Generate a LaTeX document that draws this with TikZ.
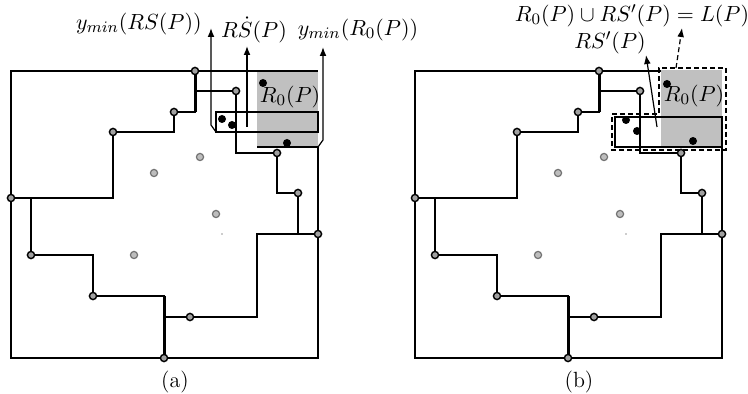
\documentclass[tikz,border=0pt]{standalone}
\usetikzlibrary{arrows.meta, positioning}
\usepackage{xcolor}
\definecolor{regiongray}{HTML}{C0C0C0}
\definecolor{vfill}{HTML}{A0A0A0}
\definecolor{sfill}{HTML}{BDBDBD}

\begin{document}
\begin{tikzpicture}[
    x=0.5pt, y=-0.5pt,
    every node/.style={font=\fontsize{11}{13}\selectfont, inner sep=1pt},
    wall/.style={line width=1pt},
    vtx/.style={circle, draw, line width=0.7pt, fill=vfill, inner sep=0pt, minimum size=3.6pt},
    site/.style={circle, draw=black!55, line width=0.6pt, fill=sfill, inner sep=0pt, minimum size=3.6pt},
    pnt/.style={circle, fill=black, inner sep=0pt, minimum size=4pt},
    rbox/.style={line width=1.3pt},
    lbox/.style={line width=0.8pt, dash pattern=on 2.5pt off 1.5pt},
    arr/.style={-{Latex[length=4.5pt, width=3.4pt]}, line width=0.6pt},
    darr/.style={arr, dash pattern=on 2.5pt off 1.5pt}
]
    \useasboundingbox (0,0) rectangle (748,394);
    % both panels share the subdivision
    \foreach \dx/\p in {0/a, 404/b} {
      \begin{scope}[shift={(\dx,0)}]
        \fill[regiongray] (257,70) rectangle (318,147);
        \draw[wall] (257,147) -- (318,147) -- (318,358) -- (11,358) -- (11,71) -- (257,71);
        \draw[wall] (11,198) -- (113,198) -- (113,132) -- (174,132) -- (174,112) -- (195,112) -- (195,71);
        \draw[wall] (195,91) -- (236,91) -- (236,153) -- (277,153) -- (277,193) -- (298,193) -- (298,234) -- (318,234);
        \draw[wall] (31,198) -- (31,255) -- (93,255) -- (93,296) -- (164,296) -- (164,358);
        \draw[wall] (164,317) -- (257,317) -- (257,234) -- (318,234);
        \draw[wall, line width=1.5pt] (195,71) -- (195,112);
        \draw[wall, line width=1.5pt] (164,296) -- (164,358);
        \foreach \x/\y [count=\i] in {195/71, 236/91, 174/112, 113/132, 11/198, 277/153,
                                      298/193, 318/234, 31/255, 93/296, 190/317, 164/358}
          \node[vtx] (v\i\p) at (\x,\y) {};
        \foreach \x/\y [count=\i] in {200/157, 154/173, 216/214, 134/255}
          \node[site] (s\i\p) at (\x,\y) {};
        \fill[black!40] (222,234) circle (0.4pt);
        \node (cap\p) at (175,382) {(\p)};
      \end{scope}
    }

    % (a)
    \draw[wall] (257,71) -- (318,71);
    \draw[rbox] (216,112) rectangle (318,132);
    \node[pnt] (pa1) at (263,83) {};
    \node[pnt] (pa2) at (222,119) {};
    \node[pnt] (pa3) at (232,125) {};
    \node[pnt] (pa4) at (287,143) {};
    \node (r0a) at (290,97) {$R_0(P)$};
    \node[anchor=east] (ymrs) at (204,24) {$y_{min}(RS(P))$};
    \node (rs) at (254,30) {$R\dot{S}(P)$};
    \node (ymr) at (358,30) {$y_{min}(R_0(P))$};
    \coordinate (ta1) at (211,28);
    \coordinate (ta2) at (247,46);
    \coordinate (ta3) at (323,47);
    \draw[arr] (216,132) -- (211,125) -- (ta1);
    \draw[arr] (247,127) -- (ta2);
    \draw[arr] (318,147) -- (323,140) -- (ta3);

    % (b)
    \draw[rbox, line width=1.2pt] (615,117) rectangle (722,147);
    \draw[lbox] (612,114) -- (659,114) -- (659,68) -- (726,68) -- (726,150) -- (612,150) -- cycle;
    \node[pnt] (pb1) at (667,84) {};
    \node[pnt] (pb2) at (626,120) {};
    \node[pnt] (pb3) at (637,131) {};
    \node[pnt] (pb4) at (693,141) {};
    \node (r0b) at (694,96) {$R_0(P)$};
    \node (lp) at (632,16) {$R_0(P)\cup RS'(P)=L(P)$};
    \node (rsp) at (610,43) {$RS'(P)$};
    \coordinate (tb1) at (646,55);
    \coordinate (tb2) at (682,28);
    \draw[arr] (657,127) -- (tb1);
    \draw[darr] (676,68) -- (tb2);
\end{tikzpicture}
\end{document}
